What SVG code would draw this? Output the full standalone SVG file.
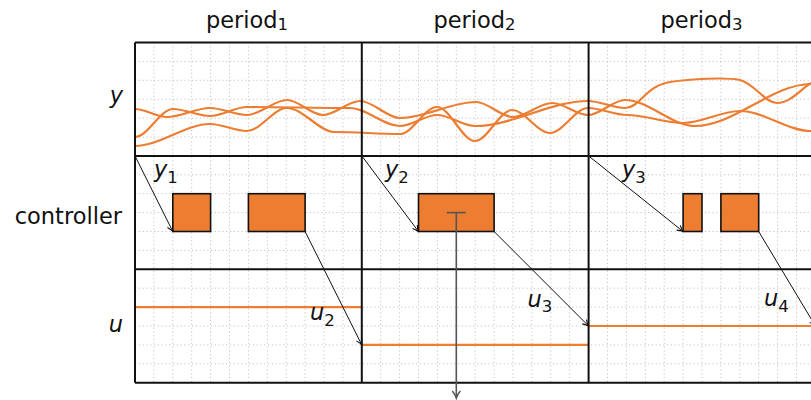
<svg xmlns="http://www.w3.org/2000/svg" width="811" height="400" viewBox="0 0 811 400">
<style>
text{font-family:"DejaVu Sans","Liberation Sans",sans-serif;font-size:22.5px;fill:#111}
.it{font-style:italic}
.sub{font-size:16.5px;font-style:normal}
.grid{stroke:#c4c4c4;stroke-width:1;stroke-dasharray:1.2 2.6;fill:none}
.frame{stroke:#111;stroke-width:2;fill:none}
.curve{stroke:#ED7D31;stroke-width:2.2;fill:none}
.box{fill:#ED7D31;stroke:#111;stroke-width:1.6}
.arr{stroke:#111;stroke-width:1;fill:none;marker-end:url(#ah)}
</style>
<defs>
<marker id="ah" markerUnits="userSpaceOnUse" markerWidth="12" markerHeight="12" viewBox="-8 -6 10 12" refX="0" refY="0" orient="auto" overflow="visible">
<path d="M-6,-3 Q-2.5,-0.6 0,0 Q-2.5,0.6 -6,3" fill="none" stroke="#111" stroke-width="1.1"/>
</marker>
<marker id="ahg" markerUnits="userSpaceOnUse" markerWidth="14" markerHeight="14" viewBox="-9 -7 11 14" refX="0" refY="0" orient="auto" overflow="visible">
<path d="M-7,-4 Q-3,-0.8 0,0 Q-3,0.8 -7,4" fill="none" stroke="#555" stroke-width="1.5"/>
</marker>
</defs>
<rect width="811" height="400" fill="#fff"/>
<g id="grid">
<path class="grid" d="M153.9 42.5V382.7M172.8 42.5V382.7M191.7 42.5V382.7M210.6 42.5V382.7M229.5 42.5V382.7M248.4 42.5V382.7M267.3 42.5V382.7M286.2 42.5V382.7M305.1 42.5V382.7M324 42.5V382.7M342.9 42.5V382.7M380.7 42.5V382.7M399.6 42.5V382.7M418.5 42.5V382.7M437.4 42.5V382.7M456.3 42.5V382.7M475.2 42.5V382.7M494.1 42.5V382.7M513 42.5V382.7M531.9 42.5V382.7M550.8 42.5V382.7M569.7 42.5V382.7M607.5 42.5V382.7M626.4 42.5V382.7M645.3 42.5V382.7M664.2 42.5V382.7M683.1 42.5V382.7M702 42.5V382.7M720.9 42.5V382.7M739.8 42.5V382.7M758.7 42.5V382.7M777.6 42.5V382.7M796.5 42.5V382.7"/>
<path class="grid" d="M135 61.4H811M135 80.3H811M135 99.2H811M135 118.1H811M135 137H811M135 174.8H811M135 193.7H811M135 212.6H811M135 231.5H811M135 250.4H811M135 288.2H811M135 307.1H811M135 326H811M135 344.9H811M135 363.8H811"/>
</g>
<g id="signal-y">
<path class="curve" d="M135,109 C145.7,109 156.3,117 167,117 C181.3,117 195.7,108 210,108 C222.3,108 234.7,115 247,115 C260.3,115 273.7,100 287,100 C299,100 311,115 323,115 C335.3,115 347.7,101 360,101 C373.3,101 386.7,118 400,118 C425.3,118 450.7,102 476,102 C488.3,102 500.7,117 513,117 C526,117 539,103 552,103 C564,103 576,115 588,115 C600.3,115 612.7,100 625,100 C648.3,100 671.7,126 695,126 C733.7,126 772.3,84 811,84"/>
<path class="curve" d="M135,137 C147.7,137 160.3,109 173,109 C185.3,109 197.7,116 210,116 C222.3,116 234.7,107 247,107 C281.3,107 315.7,108 350,108 C366.7,108 383.3,126 400,126 C412.3,126 424.7,115 437,115 C449.7,115 462.3,126 475,126 C512.7,126 550.3,101 588,101 C600.3,101 612.7,108 625,108 C640,108 645,86 670,82 C690,79 725,77 740,80 C755,84 765,103 777,103 C790,103 800,90 811,83"/>
<path class="curve" d="M135,146 C160,146 185,124 210,124 C222.3,124 234.7,131 247,131 C260.3,131 273.7,108 287,108 C303,108 319,132 335,132 C356.7,132 378.3,134 400,134 C412.3,134 424.7,107 437,107 C449.7,107 462.3,141 475,141 C487.3,141 499.7,110 512,110 C524.7,110 537.3,133 550,133 C562.7,133 575.3,108 588,108 C601,108 614,115 627,115 C645.7,115 664.3,123 683,123 C702,123 721,111 740,111 C763.7,111 787.3,131 811,131"/>
</g>
<g id="signal-u">
<path class="curve" d="M135,307.1H361.8M361.8,344.9H588.6M588.6,326H811"/>
</g>
<g id="frame">
<path class="frame" d="M135,42.5H811M135,155.9H811M135,269.3H811M135,382.7H811M135,42.5V382.7M361.8,42.5V382.7M588.6,42.5V382.7"/>
</g>
<g id="controller-1a"><rect class="box" x="172.8" y="193.7" width="37.8" height="37.8"/></g>
<g id="controller-1b"><rect class="box" x="248.4" y="193.7" width="56.7" height="37.8"/></g>
<g id="controller-2"><rect class="box" x="418.5" y="193.7" width="75.6" height="37.8"/></g>
<g id="controller-3a"><rect class="box" x="683.1" y="193.7" width="18.9" height="37.8"/></g>
<g id="controller-3b"><rect class="box" x="720.9" y="193.7" width="37.8" height="37.8"/></g>
<g id="connectors">
<path class="arr" d="M135,155.9L172.8,231.5"/>
<path class="arr" d="M361.8,155.9L418.5,231.5"/>
<path class="arr" d="M588.6,155.9L683.1,231.5"/>
<path class="arr" d="M305.1,231.5L361.8,344.9"/>
<path class="arr" d="M494.1,231.5L588.6,326"/>
<path class="arr" d="M758.7,231.5L815.4,326"/>
<path d="M446.8,212.6H465.8" stroke="#555" stroke-width="1.6" fill="none"/>
<path d="M456.3,212.6V398" stroke="#555" stroke-width="1.6" fill="none" marker-end="url(#ahg)"/>
</g>
<g id="labels">
<text x="247" y="27.6" text-anchor="middle">period<tspan class="sub" dy="2.6">1</tspan></text>
<text x="474.5" y="27.6" text-anchor="middle">period<tspan class="sub" dy="2.6">2</tspan></text>
<text x="701.5" y="27.6" text-anchor="middle">period<tspan class="sub" dy="2.6">3</tspan></text>
<text x="123" y="102.5" text-anchor="end" class="it">y</text>
<text x="122" y="224" text-anchor="end">controller</text>
<text x="123" y="331.5" text-anchor="end" class="it">u</text>
<text x="154" y="177" class="it">y<tspan class="sub" dy="6">1</tspan></text>
<text x="385" y="177" class="it">y<tspan class="sub" dy="6">2</tspan></text>
<text x="622" y="177" class="it">y<tspan class="sub" dy="6">3</tspan></text>
<text x="310" y="320" class="it">u<tspan class="sub" dy="6">2</tspan></text>
<text x="527.5" y="307" class="it">u<tspan class="sub" dy="4.7">3</tspan></text>
<text x="764" y="306.3" class="it">u<tspan class="sub" dy="5.4">4</tspan></text>
</g>
</svg>
